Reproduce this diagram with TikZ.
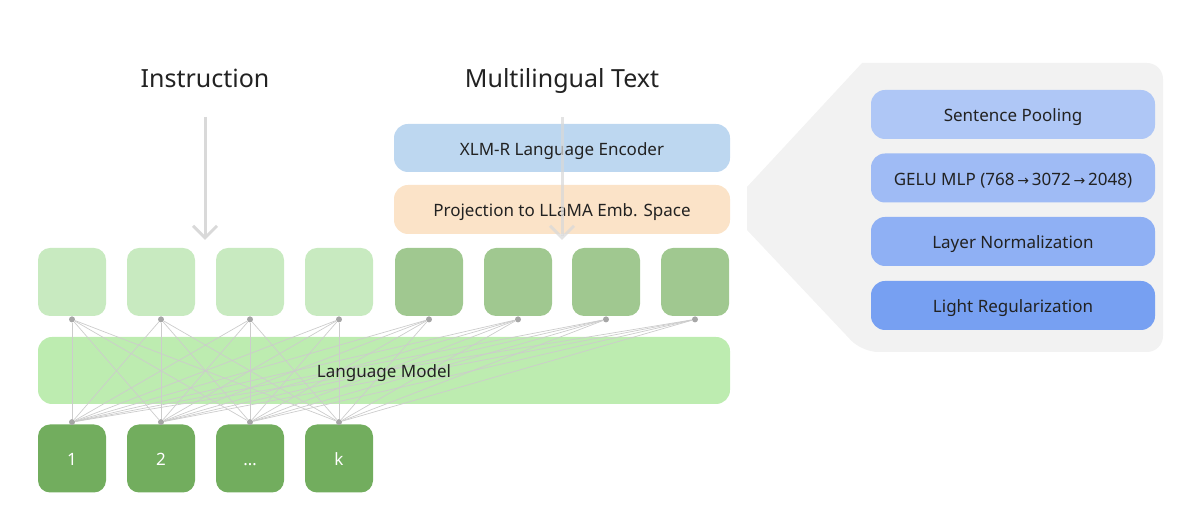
\documentclass[tikz,border=0pt]{standalone}
\usepackage{fontspec}
\setmainfont{Noto Sans}
\newfontfamily\arrowfont{DejaVu Sans}
\usetikzlibrary{arrows.meta}

\definecolor{tokLight}{HTML}{C8EAC0}
\definecolor{tokDark}{HTML}{A0C890}
\definecolor{lmGreen}{HTML}{BDECB0}
\definecolor{idGreen}{HTML}{72AD5E}
\definecolor{encBlue}{HTML}{BDD7F0}
\definecolor{projOrange}{HTML}{FBE3C8}
\definecolor{panelGray}{HTML}{F2F2F2}
\definecolor{stepA}{HTML}{AFC7F6}
\definecolor{stepB}{HTML}{9FBBF5}
\definecolor{stepC}{HTML}{8FB0F4}
\definecolor{stepD}{HTML}{77A0F2}
\definecolor{txt}{HTML}{222222}

\tikzset{
    token/.style={rounded corners=6pt, minimum width=34pt, minimum height=34pt, inner sep=0pt, text height=0.72em, text depth=0pt},
    bar/.style={rounded corners=7pt, inner sep=0pt, text=txt, font=\fontsize{8.5}{10}\selectfont, text height=0.72em, text depth=0pt},
    stepbox/.style={bar, minimum width=142pt, minimum height=24.5pt},
    title/.style={anchor=base, text=txt, font=\fontsize{12.5}{14}\selectfont},
    dot/.style={circle, fill=gray!70, inner sep=0pt, minimum size=3pt},
    link/.style={gray!40, line width=0.35pt},
    flow/.style={gray!30, line width=1.5pt, -{Straight Barb[length=6pt, width=12pt, line width=1.5pt]}}
}

\begin{document}
\begin{tikzpicture}[x=0.5pt, y=-0.5pt]
        \useasboundingbox (0,0) rectangle (1194,522);

        % 1. Titles and input arrows
        \node[title] (instr) at (205,88) {Instruction};
        \node[title] (multi) at (562,88) {Multilingual Text};
        \coordinate (instrA) at (205,117);
        \coordinate (instrB) at (205,240);
        \draw[flow] (instrA) -- (instrB);

        % 2. Encoder and projection
        \node[bar, fill=encBlue, minimum width=168pt, minimum height=24pt] (enc) at (562,148) {XLM-R Language Encoder};
        \node[bar, fill=projOrange, minimum width=168pt, minimum height=24.5pt] (proj) at (562,209.5) {Projection to LLaMA Emb. Space};
        \coordinate (multiA) at (562,117);
        \coordinate (multiB) at (562,240);
        \draw[flow, opacity=0.75] (multiA) -- (multiB);

        % 3. Input tokens (instruction: light, multilingual: dark)
        \foreach \x [count=\i] in {72,161,250,339}
            \node[token, fill=tokLight] (tok\i) at (\x,282) {};
        \foreach \x [count=\i from 5] in {429,518,606,695}
            \node[token, fill=tokDark] (tok\i) at (\x,282) {};

        % 4. Language model and output ids
        \node[bar, fill=lmGreen, minimum width=346pt, minimum height=33.5pt] (lm) at (384,370.5) {};
        \foreach \x/\t [count=\i] in {72/1,161/2,250/\ldots,339/k}
            \node[token, fill=idGreen, text=white, font=\fontsize{8.5}{10}\selectfont] (out\i) at (\x,458.5) {\t};

        % 5. Dense connections
        \foreach \i in {1,...,8}
            \node[dot] (td\i) at ([yshift=-1.5pt]tok\i.south) {};
        \foreach \j in {1,...,4}
            \node[dot] (bd\j) at ([yshift=1pt]out\j.north) {};
        \foreach \i in {1,...,8}
            \foreach \j in {1,...,4}
                \draw[link] (td\i) -- (bd\j);
        \node[bar] (lmlabel) at (lm.center) {Language Model};

        % 6. Projection detail panel
        \fill[panelGray, rounded corners=8pt] (1163,63) -- (1163,352) -- (862,352) [sharp corners] -- (747,230) -- (747,187) -- (862,63) [rounded corners=8pt] -- cycle;
        \node[stepbox, fill=stepA] (pool) at (1013,114.5) {Sentence Pooling};
        \node[stepbox, fill=stepB] (mlp) at (1013,178) {GELU MLP (768\,{\arrowfont\fontsize{7}{8}\selectfont →}\,3072\,{\arrowfont\fontsize{7}{8}\selectfont →}\,2048)};
        \node[stepbox, fill=stepC] (norm) at (1013,241.5) {Layer Normalization};
        \node[stepbox, fill=stepD] (reg) at (1013,305.5) {Light Regularization};

    \end{tikzpicture}
\end{document}
